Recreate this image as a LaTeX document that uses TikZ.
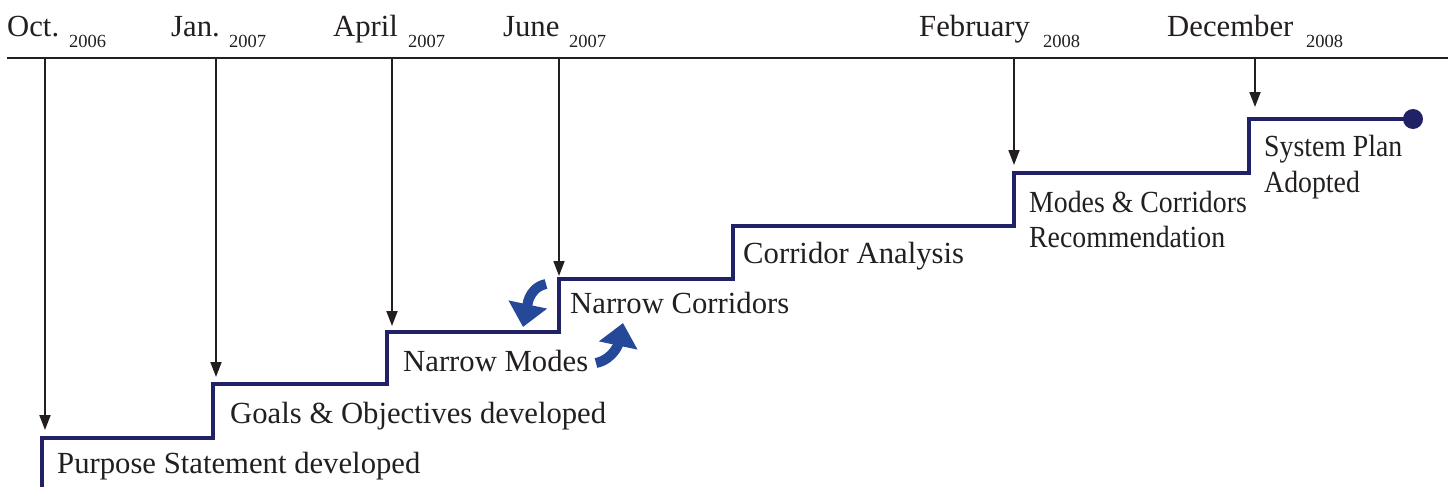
\documentclass[tikz,border=0pt]{standalone}
\usepackage{fontspec}
\setmainfont{Liberation Serif}
\newfontfamily\tightserif[FakeStretch=0.905]{Liberation Serif}
\usetikzlibrary{arrows.meta}
\definecolor{stairnavy}{RGB}{33,33,102}
\definecolor{turnblue}{RGB}{38,72,152}
\definecolor{inkgray}{RGB}{35,31,32}
\tikzset{
  month/.style={anchor=base west, inner sep=0pt, text=inkgray, font=\fontsize{30.7}{36}\selectfont},
  yearsub/.style={anchor=base west, inner sep=0pt, text=inkgray, font=\fontsize{18.5}{22}\selectfont},
  milestone/.style={anchor=base west, inner sep=0pt, text=inkgray, font=\fontsize{30.7}{36}\selectfont},
  tightmilestone/.style={milestone, font=\tightserif\fontsize{30.7}{36}\selectfont},
  timeline/.style={draw=inkgray, line width=2.7pt},
  pointer/.style={draw=inkgray, line width=1.8pt, -{Triangle[width=11pt,length=15pt]}},
  stairs/.style={draw=stairnavy, line width=4pt, line join=miter},
  turn/.style={draw=turnblue, line width=10pt, -{Triangle[width=38pt,length=23pt]}, color=turnblue},
}
\begin{document}
\begin{tikzpicture}[x=1pt, y=-1pt]
\useasboundingbox (0,0) rectangle (1448,487);

% timeline across the top
\coordinate (tlstart) at (7,58);
\coordinate (tlend) at (1452,58);
\draw[timeline] (tlstart) -- (tlend);

% dates
\node[month] (moct) at (7,37) {Oct.};
\node[yearsub] (yoct) at (69,48) {2006};
\node[month] (mjan) at (171,37) {Jan.};
\node[yearsub] (yjan) at (229,48) {2007};
\node[month] (mapr) at (333,37) {April};
\node[yearsub] (yapr) at (408,48) {2007};
\node[month] (mjun) at (503,37) {June};
\node[yearsub] (yjun) at (569,48) {2007};
\node[month] (mfeb) at (919,37) {February};
\node[yearsub] (yfeb) at (1043,48) {2008};
\node[month] (mdec) at (1167,37) {December};
\node[yearsub] (ydec) at (1306,48) {2008};

% staircase corners
\coordinate (s0) at (42,492);
\coordinate (s1) at (42,438);
\coordinate (s2) at (213,438);
\coordinate (s3) at (213,384);
\coordinate (s4) at (387,384);
\coordinate (s5) at (387,332);
\coordinate (s6) at (559,332);
\coordinate (s7) at (559,279);
\coordinate (s8) at (733,279);
\coordinate (s9) at (733,226);
\coordinate (s10) at (1014,226);
\coordinate (s11) at (1014,173);
\coordinate (s12) at (1249,173);
\coordinate (s13) at (1249,119);
\coordinate (s14) at (1413,119);
\draw[stairs] (s0) -- (s1) -- (s2) -- (s3) -- (s4) -- (s5) -- (s6) -- (s7)
  -- (s8) -- (s9) -- (s10) -- (s11) -- (s12) -- (s13) -- (s14);
\fill[stairnavy] (s14) circle (10pt);

% pointers from the dates down to the steps
\coordinate (poct) at (45,58);   \coordinate (qoct) at (45,430);
\coordinate (pjan) at (216,58);  \coordinate (qjan) at (216,377);
\coordinate (papr) at (392,58);  \coordinate (qapr) at (392,326);
\coordinate (pjun) at (559,58);  \coordinate (qjun) at (559,276);
\coordinate (pfeb) at (1014,58); \coordinate (qfeb) at (1014,165);
\coordinate (pdec) at (1255,58); \coordinate (qdec) at (1255,107);
\draw[pointer] (poct) -- (qoct);
\draw[pointer] (pjan) -- (qjan);
\draw[pointer] (papr) -- (qapr);
\draw[pointer] (pjun) -- (qjun);
\draw[pointer] (pfeb) -- (qfeb);
\draw[pointer] (pdec) -- (qdec);

% milestones
\node[milestone] (purpose) at (57,473) {Purpose Statement developed};
\node[milestone] (goals) at (230,423) {Goals \& Objectives developed};
\node[milestone] (nmodes) at (403,371) {Narrow Modes};
\node[milestone] (ncorr) at (570,313) {Narrow Corridors};
\node[milestone] (canal) at (743,263) {Corridor Analysis};
\node[tightmilestone] (mcrec1) at (1029,212) {Modes \& Corridors};
\node[tightmilestone] (mcrec2) at (1029,247) {Recommendation};
\node[tightmilestone] (spa1) at (1264,156) {System Plan};
\node[tightmilestone] (spa2) at (1264,192) {Adopted};

% iteration between modes and corridors
\coordinate (ta) at (546,284);
\coordinate (ha) at (523,327);
\coordinate (tb) at (596,363);
\coordinate (hb) at (623,323);
\draw[turn] (ta) to[out=192, in=78] (ha);
\draw[turn] (tb) to[out=12, in=258] (hb);
\end{tikzpicture}
\end{document}
